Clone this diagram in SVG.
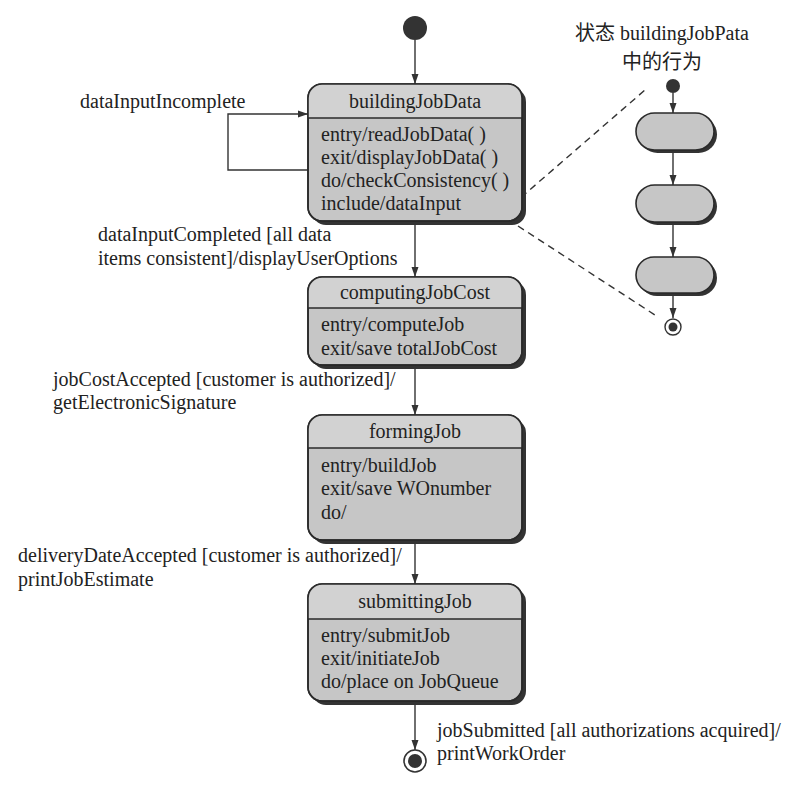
<svg xmlns="http://www.w3.org/2000/svg" width="796" height="785" viewBox="0 0 796 785">
<style>
.tx{font-family:'Liberation Serif','Times New Roman',Times,serif;font-size:20px;fill:#222}
.cj{font-family:'Liberation Serif','Noto Sans CJK SC',serif;font-size:20px;fill:#222}
.t{text-anchor:middle}
.box{fill:#c6c6c6;stroke:#2a2a2a;stroke-width:1.6}
.hdr{fill:#d2d2d2}
.sh{fill:#333}
.div{stroke:#2a2a2a;stroke-width:1.4}
.ln{fill:none;stroke:#333;stroke-width:1.4}
.dash{fill:none;stroke:#333;stroke-width:1.4;stroke-dasharray:7 5}
.act{fill:#c6c6c6;stroke:#2a2a2a;stroke-width:1.6}
</style>
<defs>
<marker id="ah" viewBox="0 0 10 10" refX="10" refY="5" markerWidth="10" markerHeight="10" markerUnits="userSpaceOnUse" orient="auto">
<path d="M0,1.5 L10,5 L0,8.5 Z" fill="#333"/>
</marker>
<clipPath id="c1"><rect x="308" y="84" width="214" height="137" rx="14"/></clipPath>
<clipPath id="c2"><rect x="308" y="277" width="214" height="88" rx="14"/></clipPath>
<clipPath id="c3"><rect x="308" y="415" width="214" height="125" rx="14"/></clipPath>
<clipPath id="c4"><rect x="308" y="584" width="214" height="117" rx="14"/></clipPath>
</defs>

<g id="connectors">
<line class="ln" x1="415" y1="40" x2="415" y2="84" marker-end="url(#ah)"/>
<polyline class="ln" points="308,170 228,170 228,114 308,114" marker-end="url(#ah)"/>
<line class="ln" x1="415" y1="225" x2="415" y2="277" marker-end="url(#ah)"/>
<line class="ln" x1="415" y1="369" x2="415" y2="415" marker-end="url(#ah)"/>
<line class="ln" x1="415" y1="544" x2="415" y2="584" marker-end="url(#ah)"/>
<line class="ln" x1="415" y1="705" x2="415" y2="750" marker-end="url(#ah)"/>
<line class="ln" x1="673" y1="93" x2="673" y2="113" marker-end="url(#ah)"/>
<line class="ln" x1="673" y1="152" x2="673" y2="185" marker-end="url(#ah)"/>
<line class="ln" x1="673" y1="224" x2="673" y2="257" marker-end="url(#ah)"/>
<line class="ln" x1="673" y1="295" x2="673" y2="318" marker-end="url(#ah)"/>
<line class="dash" x1="503" y1="213" x2="645" y2="90"/>
<line class="dash" x1="518" y1="226" x2="655" y2="315"/>
</g>

<g id="start">
<circle cx="415" cy="28" r="12" fill="#333"/>
</g>

<g id="buildingJobData">
<rect class="sh" x="312" y="88" width="214" height="137" rx="14"/>
<rect class="box" x="308" y="84" width="214" height="137" rx="14"/>
<rect class="hdr" x="308" y="84" width="214" height="34" clip-path="url(#c1)"/>
<rect x="308" y="84" width="214" height="137" rx="14" fill="none" stroke="#2a2a2a" stroke-width="1.6"/>
<line class="div" x1="308" y1="118" x2="522" y2="118"/>
<text class="tx t" x="415" y="108">buildingJobData</text>
<text class="tx" x="321" y="141">entry/readJobData( )</text>
<text class="tx" x="321" y="164">exit/displayJobData( )</text>
<text class="tx" x="321" y="187">do/checkConsistency( )</text>
<text class="tx" x="321" y="210">include/dataInput</text>
</g>

<g id="computingJobCost">
<rect class="sh" x="312" y="281" width="214" height="88" rx="14"/>
<rect class="box" x="308" y="277" width="214" height="88" rx="14"/>
<rect class="hdr" x="308" y="277" width="214" height="31" clip-path="url(#c2)"/>
<rect x="308" y="277" width="214" height="88" rx="14" fill="none" stroke="#2a2a2a" stroke-width="1.6"/>
<line class="div" x1="308" y1="308" x2="522" y2="308"/>
<text class="tx t" x="415" y="299">computingJobCost</text>
<text class="tx" x="321" y="331">entry/computeJob</text>
<text class="tx" x="321" y="355">exit/save totalJobCost</text>
</g>

<g id="formingJob">
<rect class="sh" x="312" y="419" width="214" height="125" rx="14"/>
<rect class="box" x="308" y="415" width="214" height="125" rx="14"/>
<rect class="hdr" x="308" y="415" width="214" height="33" clip-path="url(#c3)"/>
<rect x="308" y="415" width="214" height="125" rx="14" fill="none" stroke="#2a2a2a" stroke-width="1.6"/>
<line class="div" x1="308" y1="448" x2="522" y2="448"/>
<text class="tx t" x="415" y="438">formingJob</text>
<text class="tx" x="321" y="472">entry/buildJob</text>
<text class="tx" x="321" y="495">exit/save WOnumber</text>
<text class="tx" x="321" y="519">do/</text>
</g>

<g id="submittingJob">
<rect class="sh" x="312" y="588" width="214" height="117" rx="14"/>
<rect class="box" x="308" y="584" width="214" height="117" rx="14"/>
<rect class="hdr" x="308" y="584" width="214" height="35" clip-path="url(#c4)"/>
<rect x="308" y="584" width="214" height="117" rx="14" fill="none" stroke="#2a2a2a" stroke-width="1.6"/>
<line class="div" x1="308" y1="619" x2="522" y2="619"/>
<text class="tx t" x="415" y="608">submittingJob</text>
<text class="tx" x="321" y="642">entry/submitJob</text>
<text class="tx" x="321" y="665">exit/initiateJob</text>
<text class="tx" x="321" y="688">do/place on JobQueue</text>
</g>

<g id="final">
<circle cx="415" cy="761" r="11" fill="#fff" stroke="#333" stroke-width="1.6"/>
<circle cx="415" cy="761" r="7" fill="#333"/>
</g>

<g id="labels">
<text class="tx" x="80" y="108">dataInputIncomplete</text>
<text class="tx" x="98" y="241">dataInputCompleted [all data</text>
<text class="tx" x="98" y="265">items consistent]/displayUserOptions</text>
<text class="tx" x="53" y="386">jobCostAccepted [customer is authorized]/</text>
<text class="tx" x="53" y="409">getElectronicSignature</text>
<text class="tx" x="18" y="562">deliveryDateAccepted [customer is authorized]/</text>
<text class="tx" x="18" y="586">printJobEstimate</text>
<text class="tx" x="437" y="737">jobSubmitted [all authorizations acquired]/</text>
<text class="tx" x="437" y="760">printWorkOrder</text>
</g>

<g id="sub-title">
<text class="cj t" x="662" y="40">状态 buildingJobPata</text>
<text class="cj t" x="662" y="69">中的行为</text>
</g>

<g id="sub-start">
<circle cx="673" cy="86" r="7" fill="#333"/>
</g>
<g id="act1">
<rect class="sh" x="639" y="116" width="78" height="37" rx="18.5"/>
<rect class="act" x="636" y="113" width="78" height="37" rx="18.5"/>
</g>
<g id="act2">
<rect class="sh" x="639" y="188" width="78" height="37" rx="18.5"/>
<rect class="act" x="636" y="185" width="78" height="37" rx="18.5"/>
</g>
<g id="act3">
<rect class="sh" x="639" y="260" width="78" height="36" rx="18"/>
<rect class="act" x="636" y="257" width="78" height="36" rx="18"/>
</g>
<g id="sub-final">
<circle cx="673" cy="327" r="8" fill="#fff" stroke="#333" stroke-width="1.4"/>
<circle cx="673" cy="327" r="4.5" fill="#333"/>
</g>
</svg>
